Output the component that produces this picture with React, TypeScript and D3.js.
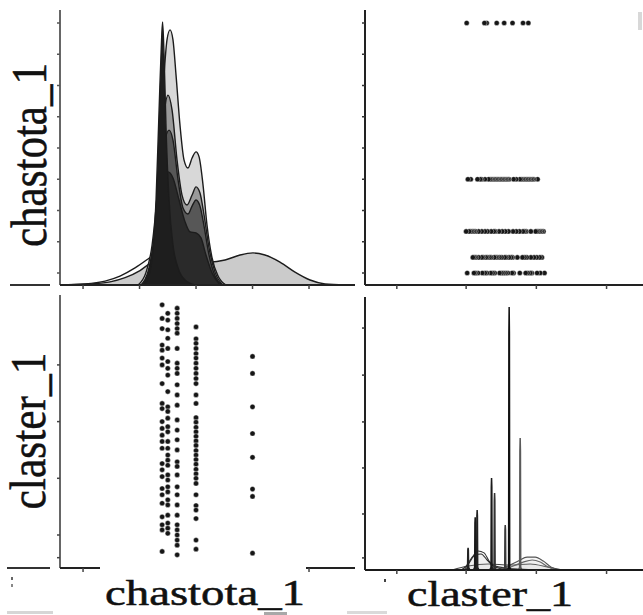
import React from 'react';
import * as d3 from 'd3';

// chastota_1 levels (columns lower-left, rows upper-right)
const chastotaLevels = [2, 2.5, 3.33, 5, 10];

// claster_1 observations at each chastota_1 level
const clasterAt2 = [5.06, 4.82, 4.64, 4.35, 4.26, 4.12, 4.0, 3.67, 3.32, 3.23, 3.0, 2.88, 2.76, 2.65, 2.53, 2.26, 2.15, 2.03, 1.82, 1.71, 1.56, 1.32, 1.18, 1.09, 0.71];
const clasterAt25 = [4.91, 4.79, 4.62, 4.47, 4.29, 4.06, 3.94, 3.82, 3.53, 3.26, 3.18, 3.06, 2.91, 2.82, 2.65, 2.53, 2.41, 2.32, 2.23, 2.06, 1.97, 1.85, 1.76, 1.62, 1.53, 1.35, 1.21, 1.12, 1.03];
const clasterAt333 = [5.0, 4.91, 4.82, 4.73, 4.64, 4.56, 4.29, 4.03, 3.94, 3.85, 3.65, 3.47, 3.29, 3.03, 2.85, 2.68, 2.5, 2.29, 2.21, 2.06, 1.85, 1.71, 1.53, 1.35, 1.18, 1.09, 1.0, 0.91, 0.82, 0.65];
const clasterAt5 = [4.67, 4.46, 4.38, 4.29, 4.2, 4.12, 4.03, 3.94, 3.85, 3.76, 3.67, 3.47, 3.32, 3.07, 2.99, 2.9, 2.82, 2.74, 2.66, 2.58, 2.49, 2.41, 2.33, 2.25, 2.16, 2.08, 2.0, 1.91, 1.71, 1.52, 1.44, 1.29, 0.91, 0.75];
const clasterAt10 = [4.15, 3.85, 3.26, 2.79, 2.37, 1.81, 1.68, 0.68];
const clasterByLevel = [clasterAt2, clasterAt25, clasterAt333, clasterAt5, clasterAt10];

// ticks (no labels are readable in the picture)
const chastotaTicksX = [-5, 0, 5, 10, 15];
const chastotaTicksY = [2, 3, 4, 5, 6, 7, 8, 9, 10];
const clasterTicksX = [-3.25, 0.65, 4.6, 8.55];
const clasterTicksY = [0.6, 1, 2, 3, 4];
const densityTicksBR = [0.046, 0.213, 0.388, 0.563, 0.741, 0.92];

// kde of chastota_1 per group: [chastota, density]
const kdeChastTail = [[-7.04, 0], [-4.82, 0.004], [-3.05, 0.015], [-1.73, 0.034], [-0.4, 0.065], [0.75, 0.099], [1.81, 0.133], [3.14, 0.152], [4.47, 0.133], [5.62, 0.087], [6.42, 0.038], [7.3, 0]];
const kdeChastWide = [[-6.86, 0], [-4.38, 0.004], [-2.61, 0.012], [-1.28, 0.028], [0.04, 0.055], [1.11, 0.087], [2.26, 0.103], [3.58, 0.106], [4.91, 0.099], [6.24, 0.087], [7.57, 0.095], [8.89, 0.114], [10.04, 0.122], [11.1, 0.114], [12.43, 0.087], [13.76, 0.049], [15.09, 0.019], [16.42, 0.004], [18.19, 0]];
const kdeChastHigh = [[-0.13, 0], [0.58, 0.049], [1.11, 0.152], [1.55, 0.342], [1.9, 0.589], [2.17, 0.798], [2.43, 0.932], [2.7, 0.97], [2.96, 0.932], [3.23, 0.798], [3.58, 0.608], [3.94, 0.475], [4.29, 0.445], [4.65, 0.483], [5.0, 0.506], [5.27, 0.487], [5.62, 0.38], [5.97, 0.228], [6.42, 0.103], [6.95, 0.034], [7.65, 0]];
const kdeChastMid = [[0.13, 0], [0.84, 0.065], [1.37, 0.209], [1.81, 0.437], [2.17, 0.646], [2.52, 0.722], [2.88, 0.665], [3.32, 0.475], [3.76, 0.342], [4.2, 0.304], [4.65, 0.342], [5.0, 0.373], [5.35, 0.35], [5.71, 0.266], [6.15, 0.141], [6.68, 0.049], [7.39, 0]];
const kdeChastLow = [[0.31, 0], [0.93, 0.072], [1.46, 0.228], [1.9, 0.437], [2.26, 0.551], [2.61, 0.589], [2.96, 0.551], [3.41, 0.4], [3.85, 0.293], [4.29, 0.27], [4.65, 0.3], [5.0, 0.323], [5.35, 0.3], [5.71, 0.224], [6.15, 0.114], [6.68, 0.034], [7.3, 0]];
const kdeChastBase = [[0.31, 0], [0.84, 0.049], [1.37, 0.171], [1.81, 0.323], [2.17, 0.407], [2.52, 0.43], [2.96, 0.407], [3.5, 0.323], [4.03, 0.24], [4.47, 0.202], [5.0, 0.198], [5.44, 0.179], [5.88, 0.114], [6.42, 0.046], [7.12, 0]];
const kdeChastSpike = [[0.4, 0], [0.84, 0.038], [1.19, 0.133], [1.46, 0.323], [1.73, 0.665], [1.95, 0.932], [2.04, 1.0], [2.17, 0.875], [2.35, 0.589], [2.61, 0.323], [2.96, 0.152], [3.41, 0.065], [4.03, 0.019], [4.91, 0]];
const chastKdes = [kdeChastTail, kdeChastWide, kdeChastHigh, kdeChastMid, kdeChastLow, kdeChastBase, kdeChastSpike];
const chastKdeFills = ['#fcfcfc', '#cbcbcb', '#d8d8d8', '#9a9a9a', '#575757', '#2a2a2a', '#1e1e1e'];

// kde of claster_1 per group, broad groups: [claster, density]
const kdeClastHumpA = [[0.37, 0], [0.65, 0.015], [0.99, 0.049], [1.32, 0.072], [1.66, 0.065], [1.94, 0.034], [2.28, 0.015], [2.85, 0.008], [3.69, 0.004], [4.82, 0]];
const kdeClastHumpB = [[0.54, 0], [0.82, 0.027], [1.15, 0.057], [1.49, 0.061], [1.83, 0.038], [2.17, 0.015], [2.68, 0.004], [3.24, 0]];
const kdeClastHumpC = [[2.45, 0], [3.01, 0.015], [3.58, 0.034], [4.08, 0.049], [4.54, 0.049], [4.99, 0.034], [5.44, 0.011], [5.83, 0]];
const kdeClastHumpD = [[2.73, 0], [3.3, 0.015], [3.86, 0.03], [4.37, 0.038], [4.82, 0.03], [5.27, 0.011], [5.66, 0]];
const kdeClastHumpE = [[-0.14, 0], [0.76, 0.015], [1.89, 0.023], [3.13, 0.019], [4.25, 0.023], [5.27, 0.011], [6.06, 0]];
const clastHumps = [kdeClastHumpE, kdeClastHumpA, kdeClastHumpB, kdeClastHumpC, kdeClastHumpD];
const clastHumpStrokes = ['#444', '#333', '#2a2a2a', '#555', '#666'];

// kde of claster_1 per group, near-constant groups (spikes)
const kdeClastS1 = [[0.66, 0], [0.73, 0.01], [0.745, 0.076], [0.76, 0.084], [0.775, 0.076], [0.79, 0.01], [0.86, 0]];
const kdeClastS2 = [[1.06, 0], [1.13, 0.01], [1.145, 0.18], [1.16, 0.2], [1.175, 0.18], [1.19, 0.01], [1.26, 0]];
const kdeClastS3 = [[1.17, 0], [1.24, 0.01], [1.255, 0.205], [1.27, 0.228], [1.285, 0.205], [1.3, 0.01], [1.37, 0]];
const kdeClastS4 = [[1.98, 0], [2.05, 0.01], [2.065, 0.315], [2.08, 0.35], [2.095, 0.315], [2.11, 0.01], [2.18, 0]];
const kdeClastS5 = [[2.15, 0], [2.22, 0.01], [2.235, 0.264], [2.25, 0.293], [2.265, 0.264], [2.28, 0.01], [2.35, 0]];
const kdeClastS6 = [[2.75, 0], [2.82, 0.01], [2.835, 0.154], [2.85, 0.171], [2.865, 0.154], [2.88, 0.01], [2.95, 0]];
const kdeClastS7 = [[2.97, 0], [3.04, 0.01], [3.055, 0.9], [3.07, 1.0], [3.085, 0.9], [3.1, 0.01], [3.17, 0]];
const kdeClastS8 = [[3.59, 0], [3.66, 0.01], [3.675, 0.452], [3.69, 0.502], [3.705, 0.452], [3.72, 0.01], [3.79, 0]];
const clastSpikes = [kdeClastS1, kdeClastS2, kdeClastS3, kdeClastS4, kdeClastS5, kdeClastS6, kdeClastS7, kdeClastS8];
const clastSpikeStrokes = ['#222', '#1a1a1a', '#222', '#1a1a1a', '#333', '#3a3a3a', '#111', '#5a5a5a'];

const serif = '"Liberation Serif", "Times New Roman", serif';

export default function App() {
  const xChast = d3.scaleLinear().domain([-7.04, 19.07]).range([60, 355]);
  const yChast = d3.scaleLinear().domain([1.616, 10.416]).range([285, 10]);
  const xClast = d3.scaleLinear().domain([-5.04, 10.6]).range([365, 643]);
  const yClast = d3.scaleLinear().domain([0.418, 5.233]).range([568, 295]);
  const yDensTL = d3.scaleLinear().domain([0, 1]).range([285, 22]);
  const yDensBR = d3.scaleLinear().domain([0, 1]).range([570, 307]);

  const areaTL = d3.area<number[]>().x(d => xChast(d[0])).y0(yDensTL(0)).y1(d => yDensTL(d[1])).curve(d3.curveMonotoneX);
  const lineTL = d3.line<number[]>().x(d => xChast(d[0])).y(d => yDensTL(d[1])).curve(d3.curveMonotoneX);
  const humpLine = d3.line<number[]>().x(d => xClast(d[0])).y(d => yDensBR(d[1])).curve(d3.curveMonotoneX);
  const humpArea = d3.area<number[]>().x(d => xClast(d[0])).y0(yDensBR(0)).y1(d => yDensBR(d[1])).curve(d3.curveMonotoneX);
  const spikeLine = d3.line<number[]>().x(d => xClast(d[0])).y(d => yDensBR(d[1]));

  return (
    <svg width={643} height={615} style={{ position: 'fixed', left: 0, top: 0, background: '#fff' }}>
      {/* stray bits of neighbouring panels */}
      <line x1={10} x2={50} y1={285} y2={285} stroke="#333" strokeWidth={2} />
      <line x1={7} x2={50} y1={568} y2={568} stroke="#333" strokeWidth={2} />
      <rect x={11} y={577} width={2} height={3} fill="#666" />
      <rect x={11} y={584} width={2} height={3} fill="#888" />
      <rect x={384} y={579} width={2} height={3} fill="#444" />
      <rect x={638} y={12} width={4} height={18} fill="#d8d8d8" />
      <rect x={7} y={611} width={46} height={3} fill="#d6d6d6" />
      <rect x={264} y={612} width={23} height={3} fill="#a8a8a8" />
      <rect x={347} y={611} width={40} height={3} fill="#dadada" />

      {/* top-left: kde of chastota_1 */}
      <g>
        {chastKdes.map((k, i) => (
          <g key={i}>
            <path d={areaTL(k) || ''} fill={chastKdeFills[i]} />
            <path d={lineTL(k) || ''} fill="none" stroke="#1c1c1c" strokeWidth={1.4} />
          </g>
        ))}
        <line x1={60} x2={60} y1={10} y2={285} stroke="#666" strokeWidth={2} />
        {chastotaTicksY.map(t => (
          <line key={t} x1={57} x2={60} y1={yChast(t)} y2={yChast(t)} stroke="#555" strokeWidth={1.5} />
        ))}
        <line x1={60} x2={355} y1={285} y2={285} stroke="#222" strokeWidth={2} />
        {chastotaTicksX.map(t => (
          <line key={t} x1={xChast(t)} x2={xChast(t)} y1={285} y2={289} stroke="#444" strokeWidth={1.5} />
        ))}
      </g>

      {/* top-right: claster_1 vs chastota_1 */}
      <g>
        {chastotaLevels.map((lv, i) =>
          clasterByLevel[i].map((c, j) => (
            <circle key={i + '-' + j} cx={xClast(c)} cy={yChast(lv)} r={2.6} fill="#161616" stroke="#fff" strokeWidth={0.4} />
          ))
        )}
        <line x1={365} x2={365} y1={10} y2={285} stroke="#222" strokeWidth={2} />
        {chastotaTicksY.map(t => (
          <line key={t} x1={362} x2={365} y1={yChast(t)} y2={yChast(t)} stroke="#333" strokeWidth={1.5} />
        ))}
        <line x1={365} x2={643} y1={285} y2={285} stroke="#222" strokeWidth={2} />
        {clasterTicksX.map(t => (
          <line key={t} x1={xClast(t)} x2={xClast(t)} y1={285} y2={289} stroke="#444" strokeWidth={1.5} />
        ))}
      </g>

      {/* bottom-left: chastota_1 vs claster_1 */}
      <g>
        {chastotaLevels.map((lv, i) =>
          clasterByLevel[i].map((c, j) => (
            <circle key={i + '-' + j} cx={xChast(lv)} cy={yClast(c)} r={2.6} fill="#161616" stroke="#fff" strokeWidth={0.4} />
          ))
        )}
        <line x1={60} x2={60} y1={295} y2={568} stroke="#666" strokeWidth={2} />
        {clasterTicksY.map(t => (
          <line key={t} x1={57} x2={60} y1={yClast(t)} y2={yClast(t)} stroke="#444" strokeWidth={1.5} />
        ))}
        <line x1={60} x2={355} y1={568} y2={568} stroke="#222" strokeWidth={2} />
        {chastotaTicksX.map(t => (
          <line key={t} x1={xChast(t)} x2={xChast(t)} y1={568} y2={572} stroke="#444" strokeWidth={1.5} />
        ))}
      </g>

      {/* bottom-right: kde of claster_1 */}
      <g>
        {clastHumps.map((k, i) => (
          <g key={'h' + i}>
            <path d={humpArea(k) || ''} fill="#bbb" fillOpacity={0.12} />
            <path d={humpLine(k) || ''} fill="none" stroke={clastHumpStrokes[i]} strokeWidth={1.1} />
          </g>
        ))}
        {clastSpikes.map((k, i) => (
          <path key={'s' + i} d={spikeLine(k) || ''} fill={clastSpikeStrokes[i]} stroke={clastSpikeStrokes[i]} strokeWidth={1.5} strokeLinejoin="miter" />
        ))}
        <line x1={365} x2={365} y1={297} y2={570} stroke="#222" strokeWidth={2} />
        {densityTicksBR.map(t => (
          <line key={t} x1={362} x2={365} y1={yDensBR(t)} y2={yDensBR(t)} stroke="#333" strokeWidth={1.5} />
        ))}
        <line x1={365} x2={643} y1={570} y2={570} stroke="#1a1a1a" strokeWidth={2} />
        {clasterTicksX.map(t => (
          <line key={t} x1={xClast(t)} x2={xClast(t)} y1={570} y2={574} stroke="#444" strokeWidth={1.5} />
        ))}
      </g>

      {/* axis titles */}
      <rect x={100} y={562} width={206} height={48} fill="#fff" />
      <g fill="#111" stroke="#111" strokeWidth={0.5} fontFamily={serif}>
        <text x={205} y={605} textAnchor="middle" fontSize={35} textLength={200} lengthAdjust="spacingAndGlyphs">chastota_1</text>
        <text x={490} y={606} textAnchor="middle" fontSize={35} textLength={166} lengthAdjust="spacingAndGlyphs">claster_1</text>
        <text transform="translate(46,155) rotate(-90)" textAnchor="middle" fontSize={51} textLength={184} lengthAdjust="spacingAndGlyphs">chastota_1</text>
        <text transform="translate(45,431) rotate(-90)" textAnchor="middle" fontSize={50} textLength={157} lengthAdjust="spacingAndGlyphs">claster_1</text>
      </g>
    </svg>
  );
}
